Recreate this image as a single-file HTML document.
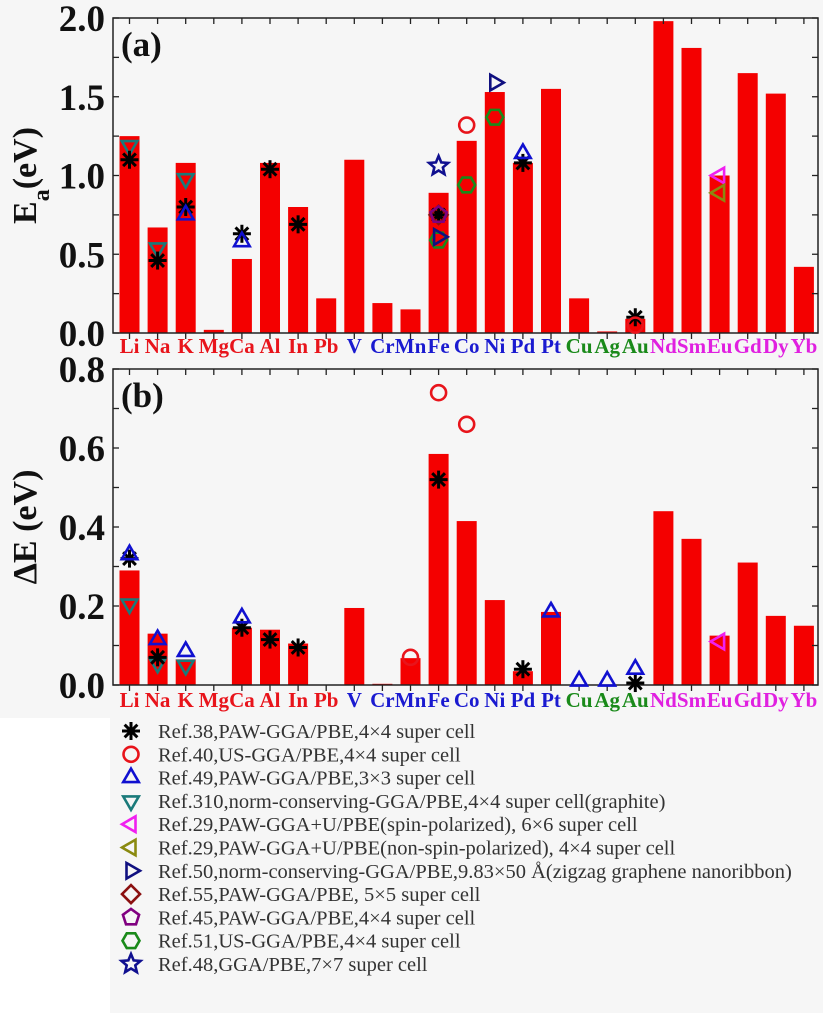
<!DOCTYPE html>
<html><head><meta charset="utf-8"><style>
html,body{margin:0;padding:0;background:#ffffff;}
svg{display:block;}
svg text{font-family:"Liberation Serif","Noto Serif CJK SC","DejaVu Serif",serif;}
</style></head><body>
<svg id="chart" width="823" height="1013" viewBox="0 0 823 1013">
<rect x="0" y="0" width="823" height="1013" fill="#ffffff"/>
<rect x="0" y="0" width="823" height="718" fill="#f6f6f6"/>
<rect x="110" y="718" width="713" height="295" fill="#f6f6f6"/>
<g id="layer"></g>
</svg>
<script>
const categories=["Li","Na","K","Mg","Ca","Al","In","Pb","V","Cr","Mn","Fe","Co","Ni","Pd","Pt","Cu","Ag","Au","Nd","Sm","Eu","Gd","Dy","Yb"];
const catGroup=[0,0,0,0,0,0,0,0,1,1,1,1,1,1,1,1,2,2,2,3,3,3,3,3,3];
const groupColors=["#e8141b","#1a1ad0","#1a8a1a","#e020e0"];
const eaValues=[1.25,0.67,1.08,0.02,0.47,1.08,0.80,0.22,1.10,0.19,0.15,0.89,1.22,1.53,1.08,1.55,0.22,0.01,0.09,1.98,1.81,1.00,1.65,1.52,0.42];
const deValues=[0.29,0.13,0.065,0,0.145,0.14,0.105,0,0.195,0.003,0.068,0.585,0.415,0.215,0.035,0.185,0,0,0,0.44,0.37,0.125,0.31,0.175,0.15];
const eaTicks=[0,0.5,1.0,1.5,2.0];
const deTicks=[0,0.2,0.4,0.6,0.8];
const eaRef38=[[0,1.10],[1,0.46],[2,0.80],[4,0.63],[5,1.04],[6,0.69],[11,0.75],[14,1.08],[18,0.10]];
const eaRef40=[[12,1.32],[18,0.05]];
const eaRef49=[[2,0.75],[4,0.58],[14,1.14]];
const eaRef310=[[0,1.19],[1,0.54],[2,0.98]];
const eaRef29s=[[21,1.00]];
const eaRef29n=[[21,0.89]];
const eaRef50=[[13,1.59],[11,0.61]];
const eaRef55=[[11,0.75]];
const eaRef45=[[11,0.75]];
const eaRef51=[[11,0.59],[12,0.94],[13,1.37]];
const eaRef48=[[11,1.06]];
const deRef38=[[0,0.32],[1,0.07],[4,0.145],[5,0.115],[6,0.095],[11,0.52],[14,0.04],[18,0.005]];
const deRef40=[[11,0.74],[12,0.66],[10,0.07]];
const deRef49=[[0,0.33],[1,0.115],[2,0.085],[4,0.17],[15,0.185],[16,0.01],[17,0.01],[18,0.04]];
const deRef310=[[0,0.205],[1,0.055],[2,0.05]];
const deRef29s=[[21,0.11]];
const legendLabels=["Ref.38,PAW-GGA/PBE,4×4 super cell","Ref.40,US-GGA/PBE,4×4 super cell","Ref.49,PAW-GGA/PBE,3×3 super cell","Ref.310,norm-conserving-GGA/PBE,4×4 super cell(graphite)","Ref.29,PAW-GGA+U/PBE(spin-polarized), 6×6 super cell","Ref.29,PAW-GGA+U/PBE(non-spin-polarized), 4×4 super cell","Ref.50,norm-conserving-GGA/PBE,9.83×50 Å(zigzag graphene nanoribbon)","Ref.55,PAW-GGA/PBE, 5×5 super cell","Ref.45,PAW-GGA/PBE,4×4 super cell","Ref.51,US-GGA/PBE,4×4 super cell","Ref.48,GGA/PBE,7×7 super cell"];
const legendShapes=["asterisk","circle","up","down","left","left","right","diamond","pentagon","hexagon","star"];
const legendColors=["#000","#e8141b","#1010d0","#1a7a7a","#f020f0","#8a8a10","#101080","#8b1010","#800080","#1a8a1a","#101090"];

const NS="http://www.w3.org/2000/svg";
const layer=document.getElementById("layer");
function mk(tag,attrs,parent){const e=document.createElementNS(NS,tag);for(const k in attrs)e.setAttribute(k,attrs[k]);(parent||layer).appendChild(e);return e;}
const X0=113,X1=818;
function xc(i){return 129.5+28.1*i;}
function panel(top,bottom,vmax,ticks,minorStep,values,name,ylabel,tag,series,labelY){
  const y=v=>bottom-(v/vmax)*(bottom-top);
  const g=mk("g",{});
  
  
  values.forEach((v,i)=>{
    if(v<=0)return;
    const r=mk("rect",{x:xc(i)-10,y:y(v),width:20,height:bottom-y(v),fill:"#f40000"},g);
    
    
  });
  const f=mk("rect",{x:X0,y:top,width:X1-X0,height:bottom-top,fill:"none",stroke:"#222","stroke-width":1.5},g);
  
  
  categories.forEach((c,i)=>{
    mk("line",{x1:xc(i),x2:xc(i),y1:top,y2:top+6,stroke:"#222","stroke-width":1.3},g);
    mk("line",{x1:xc(i),x2:xc(i),y1:bottom,y2:bottom+6,stroke:"#222","stroke-width":1.3},g);
    const t=mk("text",{x:xc(i),y:labelY,"text-anchor":"middle","font-size":21,"font-weight":"bold",fill:groupColors[catGroup[i]]},g);
    t.textContent=c;
    
    
  });
  for(let v=0;v<=vmax+1e-9;v+=minorStep){
    mk("line",{x1:X0,x2:X0+6,y1:y(v),y2:y(v),stroke:"#222","stroke-width":1.3},g);
    mk("line",{x1:X1-6,x2:X1,y1:y(v),y2:y(v),stroke:"#222","stroke-width":1.3},g);
  }
  ticks.forEach(v=>{
    const t=mk("text",{x:X0-8,y:y(v)+13,"text-anchor":"end","font-size":37,"font-weight":"bold",fill:"#111"},g);
    t.textContent=v.toFixed(1);
    
    
  });
  const tg=mk("text",{x:X0+8,y:top+38,"font-size":35,"font-weight":"bold",fill:"#111"},g);
  tg.textContent=tag;
  
  
  const yl=mk("text",{transform:`translate(36,${(top+bottom)/2}) rotate(-90)`,"text-anchor":"middle","font-size":34,"font-weight":"bold",fill:"#111"},g);
  yl.innerHTML=ylabel;
  
  
  series.forEach(([pts,si])=>{
    pts.forEach(([i,v])=>{
      const m=marker(legendShapes[si],xc(i),y(v),legendColors[si],g);
      
      
    });
  });
}
function marker(shape,cx,cy,col,parent){
  const g=mk("g",{fill:"none",stroke:col,"stroke-width":2.6},parent);
  const r=9;
  const poly=(pts)=>mk("polygon",{points:pts.map(p=>p.join(",")).join(" ")},g);
  const reg=(n,rad,rot)=>{const p=[];for(let k=0;k<n;k++){const a=rot+k*2*Math.PI/n;p.push([cx+rad*Math.cos(a),cy+rad*Math.sin(a)]);}return p;};
  if(shape==="asterisk"){for(let k=0;k<4;k++){const a=k*Math.PI/4;mk("line",{x1:cx-r*Math.cos(a),y1:cy-r*Math.sin(a),x2:cx+r*Math.cos(a),y2:cy+r*Math.sin(a),"stroke-width":3},g);}}
  else if(shape==="circle")mk("circle",{cx:cx,cy:cy,r:7.5},g);
  else if(shape==="up")poly(reg(3,9,-Math.PI/2));
  else if(shape==="down")poly(reg(3,9,Math.PI/2));
  else if(shape==="left")poly(reg(3,9,Math.PI));
  else if(shape==="right")poly(reg(3,9,0));
  else if(shape==="diamond")poly(reg(4,9,0));
  else if(shape==="pentagon")poly(reg(5,8.5,-Math.PI/2));
  else if(shape==="hexagon")poly(reg(6,8.5,0));
  else if(shape==="star"){const p=[];for(let k=0;k<10;k++){const a=-Math.PI/2+k*Math.PI/5;const rr=k%2?4.5:10;p.push([cx+rr*Math.cos(a),cy+rr*Math.sin(a)]);}poly(p);}
  return g;
}
panel(18,333,2.0,eaTicks,0.25,eaValues,"panel-a","E<tspan baseline-shift='sub' font-size='24'>a</tspan>(eV)","(a)",
 [[eaRef310,3],[eaRef38,0],[eaRef40,1],[eaRef49,2],[eaRef29s,4],[eaRef29n,5],[eaRef55,7],[eaRef45,8],[eaRef51,9],[eaRef50,6],[eaRef48,10]],353);
panel(369,685,0.8,deTicks,0.1,deValues,"panel-b","ΔE (eV)","(b)",
 [[deRef310,3],[deRef38,0],[deRef40,1],[deRef49,2],[deRef29s,4]],707);
const lg=mk("g",{});


legendLabels.forEach((t,k)=>{
  const yy=731+k*23.3;
  const m=marker(legendShapes[k],131,yy,legendColors[k],lg);
  
  
  const tx=mk("text",{x:158,y:yy+7,"font-size":20.5,fill:"#333"},lg);
  tx.textContent=t;
  
  
});
</script>
</body></html>
